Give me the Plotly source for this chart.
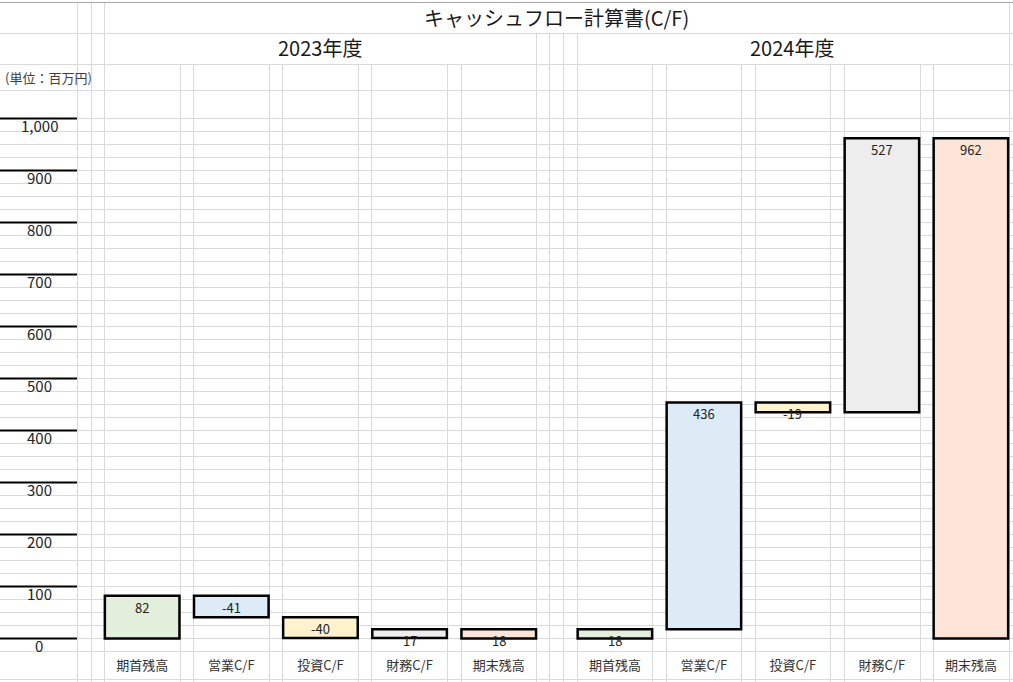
import plotly.graph_objects as go

# ---------------- data ----------------
categories = ["期首残高", "営業C/F", "投資C/F", "財務C/F", "期末残高"]
kinds = ["absolute", "relative", "relative", "relative", "total"]
values_2023 = [82, -41, -40, 17, 18]
values_2024 = [18, 436, -19, 527, 962]
years = ["2023年度", "2024年度"]
bar_colors = ["#E2EFDA", "#DDEBF7", "#FFF2CC", "#EDEDED", "#FCE4D6"]
y_ticks = [0, 100, 200, 300, 400, 500, 600, 700, 800, 900, 1000]
y_tick_labels = ["0", "100", "200", "300", "400", "500", "600", "700", "800", "900", "1,000"]
title_text = "キャッシュフロー計算書(C/F)"
unit_text = "(単位：百万円)"

W, H = 1013, 682
FONT = "Noto Sans CJK JP"
GRID = "#DADADA"

# pixel geometry of the sheet (layout only)
zero_px, thousand_px = 638.5, 118.5
px_per_unit = (zero_px - thousand_px) / 1000.0
y_lo = -(H - zero_px) / px_per_unit
y_hi = zero_px / px_per_unit


def waterfall(values):
    bases, deltas, tops = [], [], []
    run = 0
    for k, v in zip(kinds, values):
        if k == "absolute":
            b, d = 0, v
            run = v
        elif k == "relative":
            b, d = run, v
            run = run + v
        else:
            b, d = 0, v
        bases.append(b)
        deltas.append(d)
        tops.append(max(b, b + d))
    return bases, deltas, tops


fig = go.Figure()
annotations = []
xaxes = ["x", "x2"]
for xa, vals in zip(xaxes, [values_2023, values_2024]):
    bases, deltas, tops = waterfall(vals)
    fig.add_trace(go.Bar(
        x=categories, y=deltas, base=bases, xaxis=xa, yaxis="y",
        marker=dict(color=bar_colors, line=dict(color="black", width=2.5)),
        showlegend=False, hoverinfo="skip",
    ))
    for c, v, t in zip(categories, vals, tops):
        annotations.append(dict(
            x=c, y=t, xref=xa, yref="y", text=str(v), showarrow=False,
            yanchor="top", yshift=0, font=dict(family=FONT, size=13, color="#222"),
        ))

# y-axis labels (column A style)
for v, lab in zip(y_ticks, y_tick_labels):
    annotations.append(dict(
        x=39 / W, y=v, xref="paper", yref="y", text=lab, showarrow=False,
        xanchor="center", yanchor="middle", yshift=-7,
        font=dict(family=FONT, size=15, color="#222"),
    ))

# year headers
for xa, yr in zip(xaxes, years):
    annotations.append(dict(
        x=0.5, y=1 - 47.5 / H, xref=f"{xa} domain", yref="paper", text=yr,
        showarrow=False, xanchor="center", yanchor="middle",
        font=dict(family=FONT, size=20, color="#1a1a1a"),
    ))

annotations.append(dict(
    x=556.5 / W, y=1 - 18 / H, xref="paper", yref="paper", text=title_text,
    showarrow=False, xanchor="center", yanchor="middle",
    font=dict(family=FONT, size=20, color="#1a1a1a"),
))
annotations.append(dict(
    x=3 / W, y=1 - 77 / H, xref="paper", yref="paper", text=unit_text,
    showarrow=False, xanchor="left", yanchor="middle",
    font=dict(family=FONT, size=13, color="#404040"),
))

# ---------------- sheet grid (shapes) ----------------
shapes = []
# horizontal rows aligned with data scale (25 per row)
for v in range(-25, 1001, 25):
    shapes.append(dict(type="line", xref="paper", yref="y", x0=0, x1=1, y0=v, y1=v,
                       line=dict(color=GRID, width=1), layer="below"))
for py in [33.5, 64.5, 90.5, 679.5]:
    shapes.append(dict(type="line", xref="paper", yref="paper", x0=0, x1=1,
                       y0=1 - py / H, y1=1 - py / H, line=dict(color=GRID, width=1), layer="below"))
shapes.append(dict(type="line", xref="paper", yref="paper", x0=0, x1=1,
                   y0=1 - 2.5 / H, y1=1 - 2.5 / H, line=dict(color="#A6A6A6", width=1), layer="below"))

col_full = [77.5, 91.5, 104.5, 1009.5]
col_from33 = [536.5, 549.5, 563.5, 577.5]
col_from64 = [180.5, 193.5, 269.5, 282.5, 358.5, 371.5, 447.5, 461.5,
              652.5, 666.5, 741.5, 755.5, 830.5, 844.5, 920.5, 933.5]
for cols, top in [(col_full, 3), (col_from33, 33.5), (col_from64, 64.5)]:
    for px in cols:
        shapes.append(dict(type="line", xref="paper", yref="paper", x0=px / W, x1=px / W,
                           y0=0, y1=1 - top / H, line=dict(color=GRID, width=1), layer="below"))

# thick axis lines in column A
for v in y_ticks:
    shapes.append(dict(type="line", xref="paper", yref="y", x0=0, x1=77 / W, y0=v, y1=v,
                       line=dict(color="black", width=2.2), layer="above"))

period23 = 89.15
period24 = 89.0
d23 = [(142.15 - period23 / 2) / W, (142.15 + 4.5 * period23) / W]
d24_start = 614.9 - period24 / 2
d24 = [d24_start / W, 1.0]
r24 = [-0.5, -0.5 + (W - d24_start) / period24]

axis_common = dict(type="category", anchor="free", position=1 - 656 / H,
                   showgrid=False, zeroline=False, showline=False, ticks="",
                   tickfont=dict(family=FONT, size=13, color="#333"), fixedrange=True)

fig.update_layout(
    width=W, height=H, autosize=False,
    margin=dict(l=0, r=0, t=0, b=0, pad=0),
    paper_bgcolor="white", plot_bgcolor="rgba(0,0,0,0)",
    bargap=0.163,
    xaxis=dict(domain=d23, range=[-0.5, 4.5], **axis_common),
    xaxis2=dict(domain=d24, range=r24, **axis_common),
    yaxis=dict(domain=[0, 1], range=[y_lo, y_hi], anchor="x", visible=False,
               showgrid=False, zeroline=False, fixedrange=True),
    shapes=shapes,
    annotations=annotations,
    font=dict(family=FONT),
)

fig.write_html("out.html")
